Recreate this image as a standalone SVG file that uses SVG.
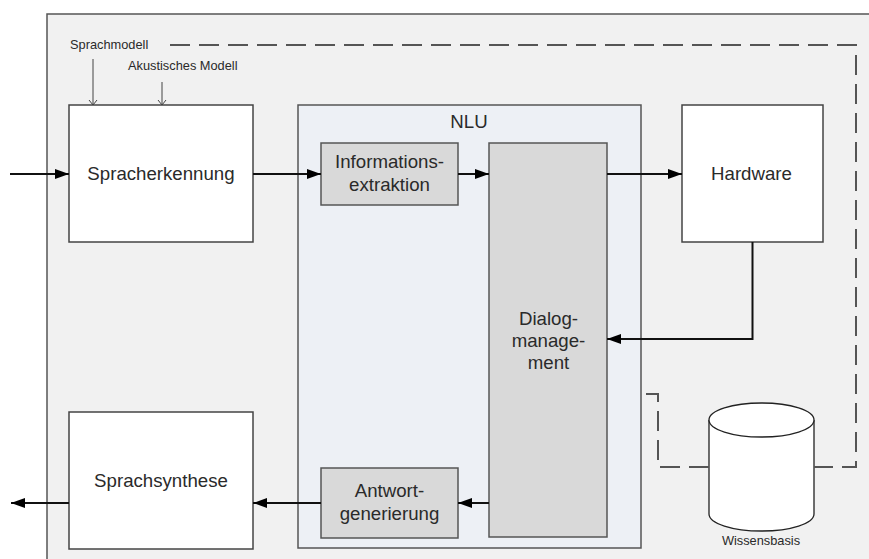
<svg xmlns="http://www.w3.org/2000/svg" width="869" height="559" viewBox="0 0 869 559">
<style>
text{font-family:"Liberation Sans",Arial,sans-serif;fill:#2a2a2a;}
.lbl{font-size:18.67px;text-anchor:middle;}
.sm{font-size:12.8px;}
.box{fill:#fff;stroke:#444;stroke-width:1.5;}
.gbox{fill:#d9d9d9;stroke:#555;stroke-width:1.5;}
.conn{fill:none;stroke:#111;stroke-width:2;}
.thin{fill:none;stroke:#444;stroke-width:1;}
.dash{fill:none;stroke:#555;stroke-width:2;stroke-dasharray:20,9;}
</style>
<defs>
<marker id="ah" viewBox="0 0 14 10" refX="14" refY="5" markerWidth="14" markerHeight="10" markerUnits="userSpaceOnUse" orient="auto">
<path d="M0,0 L14,5 L0,10 z" fill="#000"/>
</marker>
<marker id="oa" viewBox="0 0 10 10" refX="5" refY="9" markerWidth="10" markerHeight="10" markerUnits="userSpaceOnUse" orient="0">
<path d="M1,4 L5,9 L9,4" fill="none" stroke="#444" stroke-width="1"/>
</marker>
</defs>
<rect x="47" y="14" width="840" height="560" fill="#f1f1f1" stroke="#555" stroke-width="1.5"/>
<g id="nlu">
<rect x="298" y="105" width="343" height="443" fill="#edf0f5" stroke="#555" stroke-width="1.5"/>
<text class="lbl" x="469" y="128">NLU</text>
</g>
<g id="sprachmodell"><text class="sm" x="70" y="49">Sprachmodell</text></g>
<g id="akustisch"><text class="sm" x="128" y="69.5">Akustisches Modell</text></g>
<g id="spracherkennung">
<rect class="box" x="69" y="105" width="184" height="137"/>
<text class="lbl" x="161" y="180">Spracherkennung</text>
</g>
<g id="sprachsynthese">
<rect class="box" x="69" y="412" width="184" height="137"/>
<text class="lbl" x="161" y="487">Sprachsynthese</text>
</g>
<g id="informationsextraktion">
<rect class="gbox" x="321" y="143" width="137" height="62"/>
<text class="lbl" x="389.5" y="168">Informations-</text>
<text class="lbl" x="389.5" y="191">extraktion</text>
</g>
<g id="dialogmanagement">
<rect class="gbox" x="489" y="143" width="118" height="394" stroke="#222"/>
<text class="lbl" x="548.5" y="325">Dialog-</text>
<text class="lbl" x="548.5" y="347">manage-</text>
<text class="lbl" x="548.5" y="369">ment</text>
</g>
<g id="antwortgenerierung">
<rect class="gbox" x="321" y="468" width="137" height="70"/>
<text class="lbl" x="389.5" y="497">Antwort-</text>
<text class="lbl" x="389.5" y="520">generierung</text>
</g>
<g id="hardware">
<rect class="box" x="682" y="105" width="141" height="137"/>
<text class="lbl" x="751.5" y="180">Hardware</text>
</g>
<g id="wissensbasis">
<path d="M709,420 L709,514 A52.5,17 0 0 0 814,514 L814,420" fill="#fff" stroke="#222" stroke-width="1.3"/>
<ellipse cx="761.5" cy="420" rx="52.5" ry="17" fill="#fff" stroke="#222" stroke-width="1.3"/>
<text class="sm" x="761" y="545" text-anchor="middle">Wissensbasis</text>
</g>
<g id="connectors">
<line class="thin" x1="93" y1="59" x2="93" y2="105" marker-end="url(#oa)"/>
<line class="thin" x1="162" y1="82" x2="162" y2="105" marker-end="url(#oa)"/>
<polyline class="dash" points="170,45 856,45 856,467 814,467"/>
<polyline class="dash" points="709,467 658,467 658,394 641,394"/>
<line class="conn" x1="10" y1="174" x2="69" y2="174" marker-end="url(#ah)"/>
<line class="conn" x1="253" y1="174" x2="321" y2="174" marker-end="url(#ah)"/>
<line class="conn" x1="458" y1="174" x2="489" y2="174" marker-end="url(#ah)"/>
<line class="conn" x1="607" y1="174" x2="682" y2="174" marker-end="url(#ah)"/>
<polyline class="conn" points="752.5,242 752.5,339 607,339" marker-end="url(#ah)"/>
<line class="conn" x1="489" y1="503" x2="458" y2="503" marker-end="url(#ah)"/>
<line class="conn" x1="321" y1="503" x2="253" y2="503" marker-end="url(#ah)"/>
<line class="conn" x1="69" y1="503" x2="11" y2="503" marker-end="url(#ah)"/>
</g>
</svg>
